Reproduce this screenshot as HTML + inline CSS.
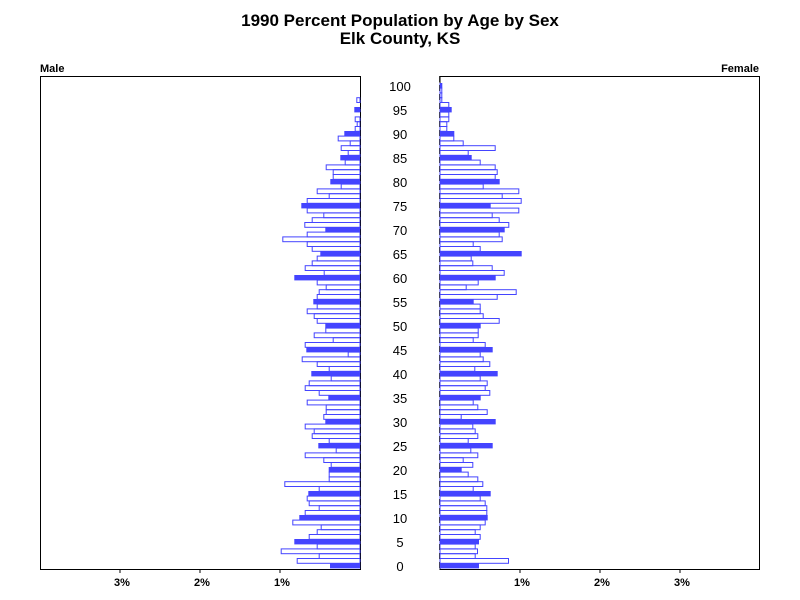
<!DOCTYPE html>
<html><head><meta charset="utf-8"><style>
html,body{margin:0;padding:0;background:#fff;}
svg{display:block;font-family:"Liberation Sans",Arial,sans-serif;}
</style></head><body>
<svg id="s" width="800" height="600" viewBox="0 0 800 600" xmlns="http://www.w3.org/2000/svg">
<rect width="800" height="600" fill="#fff"/>
<text x="400" y="26" text-anchor="middle" font-size="17" font-weight="bold">1990 Percent Population by Age by Sex</text>
<text x="400" y="44" text-anchor="middle" font-size="17" font-weight="bold">Elk County, KS</text>
<text x="40" y="72" font-size="11" font-weight="bold">Male</text>
<text x="759" y="72" text-anchor="end" font-size="11" font-weight="bold">Female</text>
<g fill="none" stroke="#000" stroke-width="1">
<path d="M40.5 76.5H360.5M40.5 76V569.5H360.5V76"/>
<path d="M440 76.5H759.5V569.5H440V76"/>
<path d="M120 569v4M200 569v4M280 569v4M520 569v4M600 569v4M680 569v4"/>
</g>
<g font-size="11" text-anchor="middle" font-weight="bold">
<text x="122" y="586">3%</text><text x="202" y="586">2%</text><text x="282" y="586">1%</text>
<text x="522" y="586">1%</text><text x="602" y="586">2%</text><text x="682" y="586">3%</text>
</g>
<g font-size="13" text-anchor="middle">
<text x="400" y="571">0</text><text x="400" y="547">5</text><text x="400" y="523">10</text><text x="400" y="499">15</text><text x="400" y="475">20</text><text x="400" y="451">25</text><text x="400" y="427">30</text><text x="400" y="403">35</text><text x="400" y="379">40</text><text x="400" y="355">45</text><text x="400" y="331">50</text><text x="400" y="307">55</text><text x="400" y="283">60</text><text x="400" y="259">65</text><text x="400" y="235">70</text><text x="400" y="211">75</text><text x="400" y="187">80</text><text x="400" y="163">85</text><text x="400" y="139">90</text><text x="400" y="115">95</text><text x="400" y="91">100</text>
</g>
<g id="bars"></g>
</svg>
<script>
var M=[330,296.7,318.7,280.7,316.7,294.3,308.7,316.7,320.7,292.3,299.3,304.7,318.7,308.7,306.7,308.3,318.7,284.3,328.7,328.7,328.7,330.7,323.3,304.7,335.7,318.3,328.7,311.7,313.7,304.7,325.3,323.3,325.7,325.7,306.7,328.3,318.7,304.7,308.7,330.7,311.3,328.7,316.7,301.7,347.7,306.3,304.7,332.7,313.7,325.3,325.3,316.7,313.7,306.7,316.7,313.3,316.7,318.7,325.7,316.7,294.3,323.7,304.7,311.7,316.7,320.3,311.7,306.7,282.3,306.7,325.3,304.3,311.7,323.3,306.7,301.3,306.7,328.7,316.7,340.7,330.3,332.7,332.7,325.7,344.7,340.3,347.7,340.7,349.7,337.7,344.3,354.7,356.7,354.7,359.7,354.3,360,356.3,360,360,360];
var F=[479,509,475.7,478,475.7,479,480.7,475.7,480.7,485.7,487.7,487.3,487.3,485.7,480.7,490.7,473.7,483.3,478.3,468.7,461.7,473.3,463.7,478.3,471.3,492.7,468.7,478.3,475.7,473.3,495.7,461.7,487.7,478.3,473.7,480.7,490.3,485.7,487.7,480.7,497.7,475.3,490.3,483.7,480.7,492.7,485.7,473.7,478.7,478.7,480.7,499.7,483.7,480.7,480.7,473.7,497.7,516.7,466.7,478.7,495.7,504.7,492.7,473.3,471.7,521.7,480.7,473.7,502.7,499.7,504.7,509.3,499.7,492.7,519.3,490.7,521.7,502.7,519.3,483.7,499.7,495.7,497.7,495.7,480.7,471.7,468.7,495.7,463.7,454.3,454.3,447.3,447.3,449.3,449.3,451.7,449.3,442.3,442.3,442.3,442.3];
var h='',C='#4444ff';
for(var a=0;a<=100;a++){
 var y=563.3-4.8*a, f=(a%5==0);
 var L=M[a], R=F[a];
 if(L<359.5){
  if(f) h+='<rect x="'+L+'" y="'+(y-0.3)+'" width="'+(360.5-L)+'" height="5.4" fill="'+C+'"/>';
  else h+='<rect x="'+(L+0.5)+'" y="'+y+'" width="'+(360-L-0.5)+'" height="4.8" fill="none" stroke="'+C+'" stroke-width="1"/>';
 }
 if(R>440.5){
  if(f) h+='<rect x="439.5" y="'+(y-0.3)+'" width="'+(R-439.5)+'" height="5.4" fill="'+C+'"/>';
  else h+='<rect x="440" y="'+y+'" width="'+(R-440.5)+'" height="4.8" fill="none" stroke="'+C+'" stroke-width="1"/>';
 }
}
h+='<path d="M360.5 76V569M439.5 76V569" stroke="#000" stroke-width="1" stroke-dasharray="6,3" opacity="0.6"/>';
document.getElementById('bars').innerHTML=h;
</script>
</body></html>
